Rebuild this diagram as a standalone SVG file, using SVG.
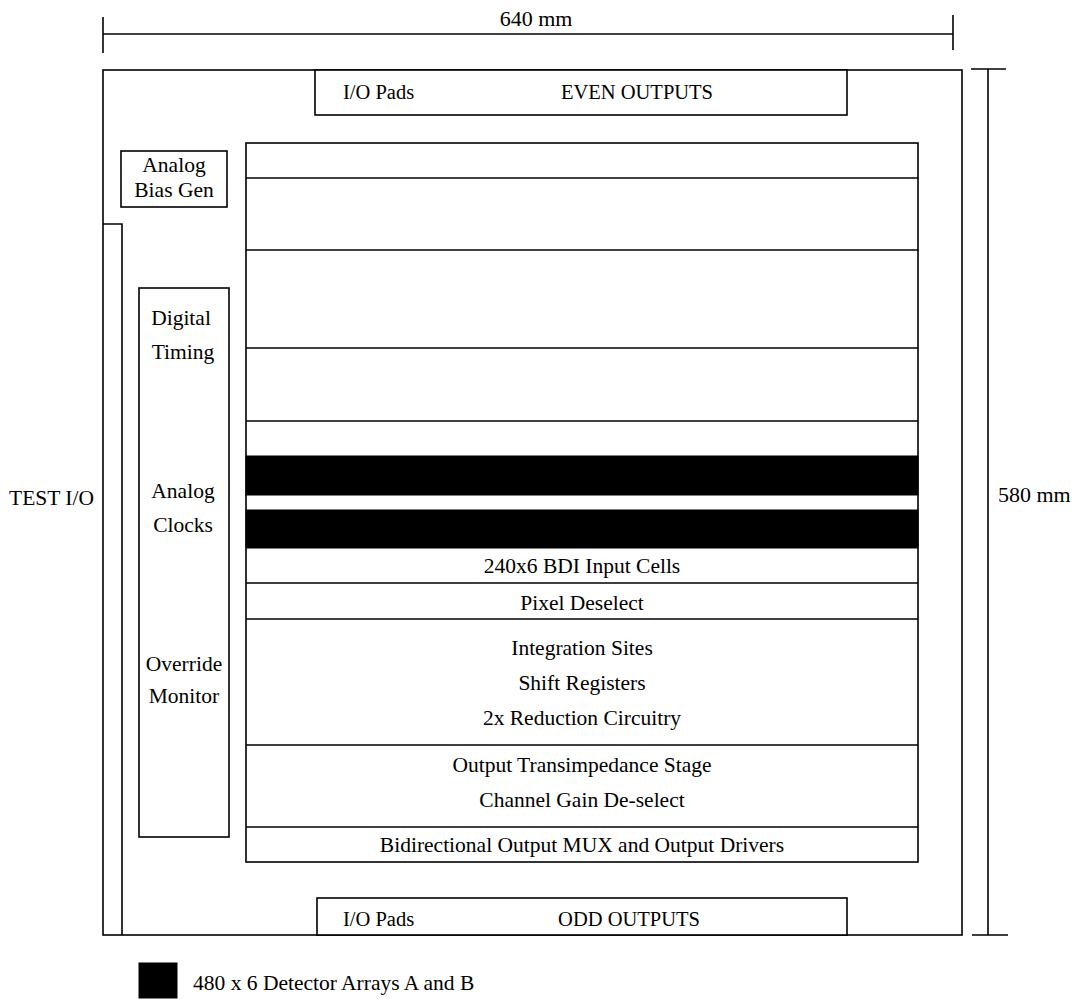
<svg xmlns="http://www.w3.org/2000/svg" width="1074" height="999" viewBox="0 0 1074 999">
<style>
.ln{fill:none;stroke:#000;stroke-width:1.6}
.bx{fill:#fff;stroke:#000;stroke-width:1.6}
.blk{fill:#000;stroke:#000;stroke-width:1}
text{font-family:"Liberation Serif","Times New Roman",serif;font-size:21.5px;fill:#000}
.c{text-anchor:middle}
.o{font-size:20.5px}
</style>
<rect width="1074" height="999" fill="#fff"/>
<g id="dimensions">
<line class="ln" x1="103" y1="34" x2="953" y2="34"/>
<line class="ln" x1="103" y1="17" x2="103" y2="53"/>
<line class="ln" x1="953" y1="15" x2="953" y2="50"/>
<text x="536" y="26" class="c" style="font-size:22px">640 mm</text>
<line class="ln" x1="988" y1="69" x2="988" y2="935"/>
<line class="ln" x1="971" y1="69" x2="1006" y2="69"/>
<line class="ln" x1="972" y1="935" x2="1008" y2="935"/>
<text x="998" y="502" style="font-size:22px">580 mm</text>
</g>
<g id="chip">
<rect class="bx" x="103" y="70" width="859" height="865"/>
</g>
<g id="test-io">
<polyline class="ln" points="103,224 122,224 122,935"/>
<text x="9" y="505">TEST I/O</text>
</g>
<g id="even-outputs">
<rect class="bx" x="315" y="70" width="532" height="45"/>
<text x="343" y="99" class="o">I/O Pads</text>
<text x="637" y="99" class="c o">EVEN OUTPUTS</text>
</g>
<g id="odd-outputs">
<rect class="bx" x="317" y="898" width="530" height="37"/>
<text x="343" y="926" class="o">I/O Pads</text>
<text x="629" y="926" class="c o">ODD OUTPUTS</text>
</g>
<g id="analog-bias-gen">
<rect class="bx" x="121" y="151" width="106" height="56"/>
<text x="174" y="172" class="c">Analog</text>
<text x="174" y="197" class="c">Bias Gen</text>
</g>
<g id="timing-column">
<rect class="bx" x="139" y="288" width="90" height="549"/>
<text x="181" y="325" class="c">Digital</text>
<text x="183" y="359" class="c">Timing</text>
<text x="183" y="498" class="c">Analog</text>
<text x="183" y="532" class="c">Clocks</text>
<text x="184" y="671" class="c">Override</text>
<text x="184" y="703" class="c">Monitor</text>
</g>
<g id="main-block">
<rect class="bx" x="246" y="143" width="672" height="719"/>
<line class="ln" x1="246" y1="178" x2="918" y2="178"/>
<line class="ln" x1="246" y1="250" x2="918" y2="250"/>
<line class="ln" x1="246" y1="348" x2="918" y2="348"/>
<line class="ln" x1="246" y1="421" x2="918" y2="421"/>
<rect id="detector-a" class="blk" x="246" y="456" width="672" height="39"/>
<rect id="detector-b" class="blk" x="246" y="510" width="672" height="38"/>
<line class="ln" x1="246" y1="583" x2="918" y2="583"/>
<line class="ln" x1="246" y1="619" x2="918" y2="619"/>
<line class="ln" x1="246" y1="745" x2="918" y2="745"/>
<line class="ln" x1="246" y1="827" x2="918" y2="827"/>
<text x="582" y="573" class="c">240x6 BDI Input Cells</text>
<text x="582" y="610" class="c">Pixel Deselect</text>
<text x="582" y="655" class="c">Integration Sites</text>
<text x="582" y="690" class="c">Shift Registers</text>
<text x="582" y="725" class="c">2x Reduction Circuitry</text>
<text x="582" y="772" class="c">Output Transimpedance Stage</text>
<text x="582" y="807" class="c">Channel Gain De-select</text>
<text x="582" y="852" class="c">Bidirectional Output MUX and Output Drivers</text>
</g>
<g id="legend">
<rect class="blk" x="139" y="963" width="38" height="35"/>
<text x="193" y="990">480 x 6 Detector Arrays A and B</text>
</g>
</svg>
